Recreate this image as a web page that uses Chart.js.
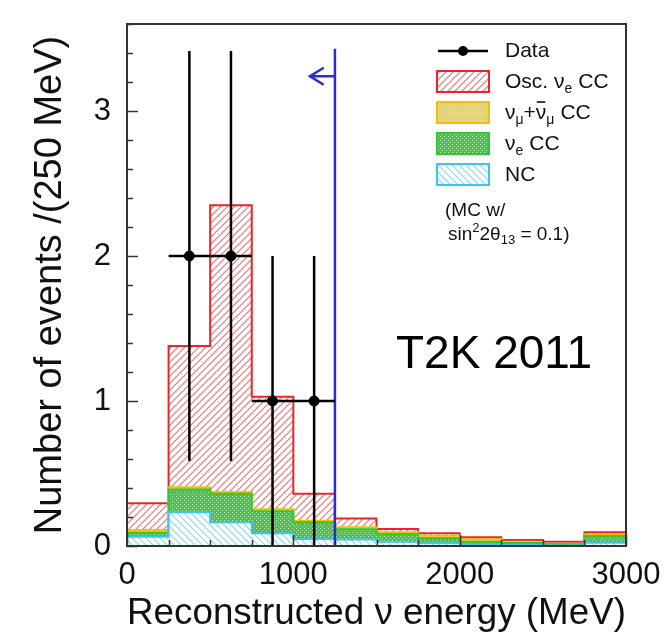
<!DOCTYPE html>
<html><head><meta charset="utf-8">
<script src="https://cdn.jsdelivr.net/npm/chart.js@4.4.1/dist/chart.umd.min.js"></script>
<style>html,body{margin:0;padding:0;background:#fff;}#wrap{width:664px;height:636px;}</style>
</head><body><div id="wrap"><canvas id="c" width="664" height="636"></canvas></div>
<script>
// ---- data ----
const binEdges = [0,250,500,750,1000,1250,1500,1750,2000,2250,2500,2750,3000];
const ncValues      = [0.064,0.232,0.163,0.088,0.048,0.044,0.030,0.019,0.010,0.007,0.004,0.023];
const nueCCValues   = [0.028,0.158,0.197,0.152,0.115,0.071,0.053,0.034,0.020,0.013,0.008,0.046];
const numuCCValues  = [0.018,0.015,0.012,0.013,0.012,0.014,0.012,0.018,0.016,0.010,0.003,0.011];
const oscNueCCValues= [0.185,0.975,1.978,0.777,0.185,0.061,0.022,0.017,0.014,0.011,0.015,0.014];
const dataX    = [375,625,875,1125];
const dataY    = [2,2,1,1];
const dataYErr = [1.414,1.414,1,1];
const dataXErr = [125,125,125,125];
const cutEnergy = 1250;
const cutLineTop = 3.43;
const cutArrowY = 3.24;
const yTickValues = [0,1,2,3];
const xTickValues = [0,1000,2000,3000];
const yMinorStep = 0.2;
const xMinorStep = 250;
const yMax = 3.6, xMax = 3000;

const FONT = '"Liberation Sans", Arial, Helvetica, sans-serif';

// ---- patterns ----
const cv = document.getElementById('c');
const ctx0 = cv.getContext('2d');
function hatch(color, bg, dir, s, lw) {
  const c = document.createElement('canvas'); c.width = c.height = s;
  const g = c.getContext('2d'); g.fillStyle = bg; g.fillRect(0,0,s,s);
  g.strokeStyle = color; g.lineWidth = lw; g.beginPath();
  if (dir > 0) {
    g.moveTo(0,s); g.lineTo(s,0);
    g.moveTo(-1,1); g.lineTo(1,-1);
    g.moveTo(s-1,s+1); g.lineTo(s+1,s-1);
  } else {
    g.moveTo(0,0); g.lineTo(s,s);
    g.moveTo(-1,s-1); g.lineTo(1,s+1);
    g.moveTo(s-1,-1); g.lineTo(s+1,1);
  }
  g.stroke();
  return ctx0.createPattern(c,'repeat');
}
function dots(bg, dot) {
  const c = document.createElement('canvas'); c.width = c.height = 4;
  const g = c.getContext('2d'); g.fillStyle = bg; g.fillRect(0,0,4,4);
  g.fillStyle = dot; g.fillRect(0,0,1,1); g.fillRect(2,2,1,1);
  return ctx0.createPattern(c,'repeat');
}
const style = {
  osc:  {border:'#e8262a', fill: hatch('#e67676','#ffffff', 1, 7, 1.2)},
  numu: {border:'#f4c000', fill: dots('#f4cf48','#fff3c8')},
  nue:  {border:'#2ccc2c', fill: dots('#44c844','#c8f0c8')},
  nc:   {border:'#3cc6ea', fill: hatch('#8ad6ef','#ffffff', -1, 7, 1.1)}
};

// ---- build cumulative stack table ----
function cumulate(arrs){ const out=[]; let run=arrs[0].map(()=>0); for(const a of arrs){ run=run.map((v,i)=>v+a[i]); out.push(run.slice()); } return out; }
const [cumNC, cumNue, cumNumu, cumOsc] = cumulate([ncValues, nueCCValues, numuCCValues, oscNueCCValues]);
const stepPts = vals => binEdges.map((x,i)=>({x, y: vals[Math.min(i, vals.length-1)]}));

const errPts = [];
dataX.forEach((x,i)=>{
  errPts.push({x, y: dataY[i]-dataYErr[i]}, {x, y: dataY[i]+dataYErr[i]}, {x, y: null});
  errPts.push({x: x-dataXErr[i], y: dataY[i]}, {x: x+dataXErr[i], y: dataY[i]}, {x, y: null});
});
const pointPts = dataX.map((x,i)=>({x, y: dataY[i]}));
const cutPts = [{x: cutEnergy, y: 0}, {x: cutEnergy, y: cutLineTop}];

function stepDS(label, vals, st, fill){
  return {label, data: stepPts(vals), stepped: 'before', borderColor: st.border, borderWidth: 2,
    backgroundColor: st.fill, fill, pointRadius: 0, tension: 0};
}

// ---- decorations plugin ----
function rich(ctx, x, y, parts){
  for (const p of parts){
    ctx.font = `${p.s}px ${FONT}`;
    const w = ctx.measureText(p.t).width;
    ctx.fillText(p.t, x, y + (p.dy||0));
    if (p.bar){ ctx.save(); ctx.lineWidth = 1.6; ctx.strokeStyle = '#111'; ctx.beginPath(); ctx.moveTo(x+1, y-17); ctx.lineTo(x+w-1, y-17); ctx.stroke(); ctx.restore(); }
    x += w + (p.gap||0);
  }
}
const decor = {
  id: 'decor',
  afterDraw(chart){
    const {ctx, chartArea: a, scales: {x, y}} = chart;
    ctx.save();
    // ticks (inward)
    ctx.strokeStyle = '#333'; ctx.lineWidth = 1.5;
    for (let k = 0; k*yMinorStep <= yMax + 1e-9; k++){
      const v = k*yMinorStep, p = Math.round(y.getPixelForValue(v))+0.5;
      const major = yTickValues.some(t=>Math.abs(t-v)<1e-6);
      ctx.beginPath(); ctx.moveTo(a.left, p); ctx.lineTo(a.left + (major?11:6), p); ctx.stroke();
    }
    for (let v = 0; v <= xMax; v += xMinorStep){
      const p = Math.round(x.getPixelForValue(v))+0.5;
      const major = xTickValues.includes(v);
      ctx.beginPath(); ctx.moveTo(p, a.bottom); ctx.lineTo(p, a.bottom - (major?11:6)); ctx.stroke();
    }
    // frame
    ctx.lineWidth = 2; ctx.strokeStyle = '#333';
    ctx.strokeRect(a.left, a.top, a.right-a.left, a.bottom-a.top);
    // cut arrow
    const xc = x.getPixelForValue(cutEnergy), ya = y.getPixelForValue(cutArrowY);
    ctx.strokeStyle = '#2b2bd6'; ctx.lineWidth = 2.5; ctx.lineCap = 'round';
    ctx.beginPath(); ctx.moveTo(xc, ya); ctx.lineTo(xc-25, ya);
    ctx.moveTo(xc-12, ya-8); ctx.lineTo(xc-25, ya); ctx.lineTo(xc-12, ya+8); ctx.stroke();
    ctx.lineCap = 'butt';
    // legend
    ctx.fillStyle = '#111'; ctx.textBaseline = 'alphabetic'; ctx.textAlign = 'left';
    const lx = 437, bw = 52, bh = 21, tx = 505;
    ctx.strokeStyle = '#000'; ctx.lineWidth = 2.5;
    ctx.beginPath(); ctx.moveTo(438, 51); ctx.lineTo(488, 51); ctx.stroke();
    ctx.beginPath(); ctx.arc(463, 51, 5, 0, Math.PI*2); ctx.fillStyle = '#000'; ctx.fill();
    ctx.fillStyle = '#111';
    rich(ctx, tx, 57, [{t:'Data', s:21}]);
    const boxes = [[style.osc, 71],[style.numu,102],[style.nue,133],[style.nc,164]];
    for (const [st, top] of boxes){
      ctx.fillStyle = st.fill; ctx.fillRect(lx, top, bw, bh);
      ctx.strokeStyle = st.border; ctx.lineWidth = 2; ctx.strokeRect(lx, top, bw, bh);
    }
    ctx.fillStyle = '#111';
    rich(ctx, tx, 88, [{t:'Osc. ν', s:21},{t:'e', s:14, dy:5, gap:6},{t:'CC', s:21}]);
    rich(ctx, tx, 119, [{t:'ν', s:21},{t:'μ', s:14, dy:5},{t:'+', s:21},{t:'ν', s:21, bar:true},{t:'μ', s:14, dy:5, gap:6},{t:'CC', s:21}]);
    rich(ctx, tx, 150, [{t:'ν', s:21},{t:'e', s:14, dy:5, gap:6},{t:'CC', s:21}]);
    rich(ctx, tx, 181, [{t:'NC', s:21}]);
    rich(ctx, 445, 216, [{t:'(MC w/', s:19}]);
    rich(ctx, 448, 240, [{t:'sin', s:19},{t:'2', s:13, dy:-8},{t:'2θ', s:19},{t:'13', s:13, dy:4},{t:' = 0.1)', s:19}]);
    // T2K label
    ctx.font = `46px ${FONT}`; ctx.fillStyle = '#000';
    ctx.fillText('T2K 2011', 396, 368);
    ctx.restore();
  }
};

function noPad(s){ s.paddingTop = 0; s.paddingBottom = 0; s.paddingLeft = 0; s.paddingRight = 0; }

new Chart(cv, {
  type: 'line',
  data: { datasets: [
    {label:'Data', data: pointPts, showLine:false, pointRadius:5, pointBackgroundColor:'#000', pointBorderColor:'#000', borderColor:'#000'},
    {label:'err', data: errPts, borderColor:'#000', borderWidth:2.5, pointRadius:0, fill:false, spanGaps:false},
    {label:'cut', data: cutPts, borderColor:'#2b2bd6', borderWidth:2.5, pointRadius:0, fill:false},
    stepDS('NC', cumNC, style.nc, 'origin'),
    stepDS('nueCC', cumNue, style.nue, '-1'),
    stepDS('numuCC', cumNumu, style.numu, '-1'),
    stepDS('osc', cumOsc, style.osc, '-1')
  ]},
  plugins: [decor],
  options: {
    responsive: false, animation: false, devicePixelRatio: 1, events: [],
    layout: { padding: {top: 24, right: 38, left: 0, bottom: 0} },
    plugins: { legend: {display:false}, tooltip: {enabled:false} },
    scales: {
      x: { type:'linear', min:0, max:xMax,
        afterBuildTicks: s => { s.ticks = xTickValues.map(v=>({value:v})); },
        afterFit: s => { s.height = 90; noPad(s); },
        grid: {display:false, drawTicks:false}, border: {display:false},
        ticks: { padding: 11, color:'#111', font: {family: FONT, size: 31}, maxRotation:0, autoSkip:false, callback: v => String(v) },
        title: { display:true, text:'Reconstructed ν energy (MeV)', color:'#111', font:{family:FONT, size:37, lineHeight:1.2}, padding:{top:0, bottom:0} }
      },
      y: { min:0, max:yMax,
        afterBuildTicks: s => { s.ticks = yTickValues.map(v=>({value:v})); },
        afterFit: s => { s.width = 127; noPad(s); },
        grid: {display:false, drawTicks:false}, border: {display:false},
        ticks: { padding: 16, color:'#111', font: {family: FONT, size: 31}, callback: v => String(v) },
        title: { display:true, text:'Number of events /(250 MeV)', color:'#111', font:{family:FONT, size:38, lineHeight:1.2}, padding:{top:28, bottom:0} }
      }
    }
  }
});
</script></body></html>
